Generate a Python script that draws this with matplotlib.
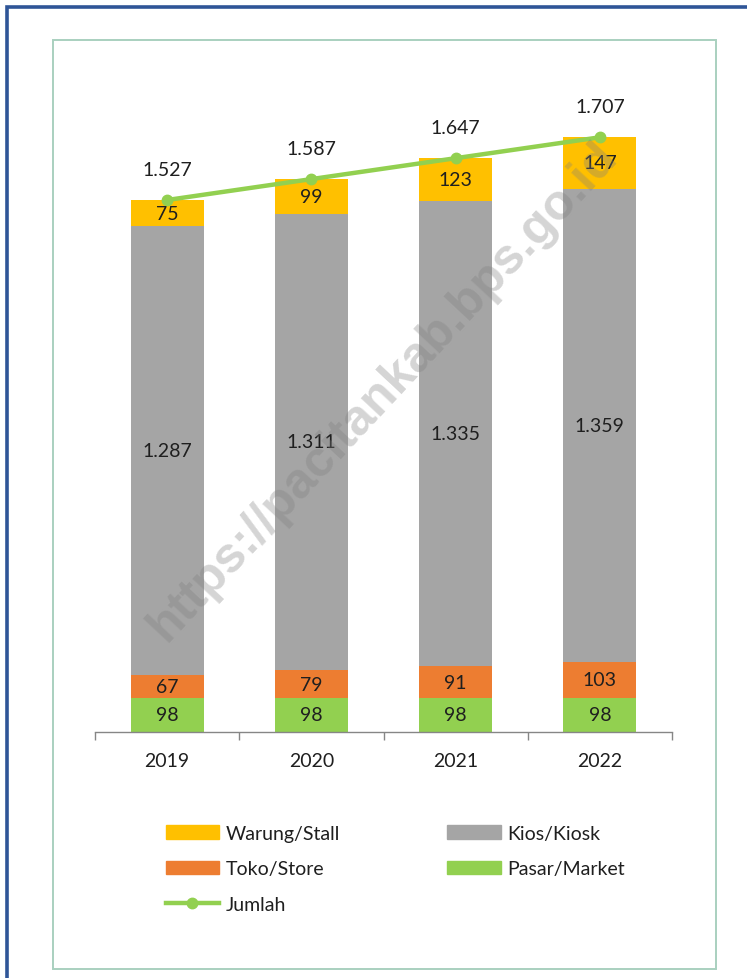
import matplotlib
matplotlib.use("Agg")
import matplotlib.pyplot as plt
from matplotlib.patches import Rectangle
from matplotlib.lines import Line2D
import numpy as np

years = ["2019", "2020", "2021", "2022"]
pasar = [98, 98, 98, 98]
toko = [67, 79, 91, 103]
kios = [1287, 1311, 1335, 1359]
warung = [75, 99, 123, 147]
jumlah = [1527, 1587, 1647, 1707]

C_WARUNG = "#FFC000"
C_KIOS = "#A5A5A5"
C_TOKO = "#ED7D31"
C_PASAR = "#92D050"
C_LINE = "#92D050"

FONT = "Lato"
plt.rcParams["font.family"] = [FONT, "DejaVu Sans"]

W, H = 747, 979
fig = plt.figure(figsize=(W / 100, H / 100), dpi=100)

def fx(px):
    return px / W

def fy(py):
    return 1 - py / H

# outer border (dark blue), extends past right/bottom edges
fig.patches.append(Rectangle((fx(6.5), fy(1200)), fx(1000), fy(7.5) - fy(1200),
                             transform=fig.transFigure, fill=False,
                             edgecolor="#2F5597", linewidth=2.6, zorder=0))
# inner box
fig.patches.append(Rectangle((fx(53), fy(970)), fx(716) - fx(53), fy(41) - fy(970),
                             transform=fig.transFigure, fill=False,
                             edgecolor="#A9D0BF", linewidth=1.4, zorder=0))

left, right, bottom, top = 95, 672, 733, 80
ax = fig.add_axes([fx(left), fy(bottom), fx(right) - fx(left), fy(top) - fy(bottom)])
px_per_unit = 532 / 1527
ax.set_ylim(0, (bottom - top) / px_per_unit)
ax.set_xlim(-0.5, 3.5)

FS = 14
x = np.arange(len(years))
bw = 0.505
segments = [(pasar, C_PASAR), (toko, C_TOKO), (kios, C_KIOS), (warung, C_WARUNG)]
base = np.zeros(len(years))
for vals, col in segments:
    vals = np.array(vals, dtype=float)
    ax.bar(x, vals, bw, bottom=base, color=col, edgecolor="none", zorder=2)
    for xi, b, v in zip(x, base, vals):
        ax.text(xi, b + v / 2, f"{int(v):,}".replace(",", "."), ha="center", va="center",
                fontsize=FS, color="#1F1F1F", zorder=5)
    base += vals

ax.plot(x, jumlah, color=C_LINE, linewidth=3.2, marker="o", markersize=7.5,
        zorder=4, solid_capstyle="round")
for xi, v in zip(x, jumlah):
    ax.annotate(f"{v:,}".replace(",", "."), (xi, v), xytext=(0, 22),
                textcoords="offset points", ha="center", va="center",
                fontsize=FS, color="#1F1F1F", zorder=5)

for s in ["top", "right", "left"]:
    ax.spines[s].set_visible(False)
ax.spines["bottom"].set_color("#868686")
ax.spines["bottom"].set_linewidth(1.0)
ax.set_yticks([])
ax.set_xticks([-0.5, 0.5, 1.5, 2.5, 3.5])
ax.set_xticklabels([])
ax.tick_params(axis="x", length=6, color="#868686", width=1.0)
for xi, yl in zip(x, years):
    ax.text(xi, -0.044, yl, transform=ax.get_xaxis_transform(), ha="center", va="center",
            fontsize=FS, color="#1F1F1F")
ax.patch.set_alpha(0)

# watermark
fig.text(fx(383), fy(392), "https://pacitankab.bps.go.id", rotation=47,
         rotation_mode="anchor", ha="center", va="center",
         fontsize=36, fontweight="bold", family="Liberation Sans",
         color="#7F7F7F", alpha=0.33, zorder=10)

handles = [
    Rectangle((0, 0), 1, 1, color=C_WARUNG),
    Rectangle((0, 0), 1, 1, color=C_TOKO),
    Line2D([0], [0], color=C_LINE, linewidth=3.2, marker="o", markersize=7.5),
    Rectangle((0, 0), 1, 1, color=C_KIOS),
    Rectangle((0, 0), 1, 1, color=C_PASAR),
]
labels = ["Warung/Stall", "Toko/Store", "Jumlah", "Kios/Kiosk", "Pasar/Market"]
leg = fig.legend(handles, labels, ncol=2, loc="upper left",
                 bbox_to_anchor=(fx(156), fy(816)), frameon=False,
                 fontsize=FS, handlelength=2.75, handleheight=0.7,
                 handletextpad=0.35, columnspacing=5.5, labelspacing=0.95,
                 borderpad=0)
for t in leg.get_texts():
    t.set_color("#1F1F1F")

fig.savefig("out.png", dpi=100)
